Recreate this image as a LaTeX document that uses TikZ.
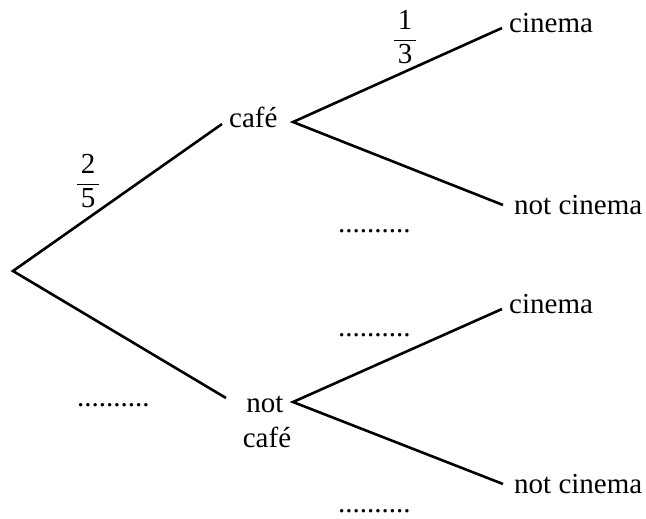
\documentclass[tikz,border=0pt]{standalone}
\usepackage{fontspec}
\setmainfont{Liberation Serif}
\begin{document}
\begin{tikzpicture}[x=1pt,y=-1pt,
  branch/.style={line width=2.6pt},
  lbl/.style={inner sep=0pt,font=\fontsize{29}{35}\selectfont},
  dots/.style={lbl,anchor=base west}]
\useasboundingbox (0,0) rectangle (646,519);
% branch end points
\coordinate (root) at (13,271);
\coordinate (cafeIn) at (222,124);
\coordinate (notcafeIn) at (226,398);
\coordinate (cafeOut) at (293,122);
\coordinate (notcafeOut) at (293,402);
\coordinate (c1) at (502,28);
\coordinate (nc1) at (503,205);
\coordinate (c2) at (502,309);
\coordinate (nc2) at (503,484);
% labels
\node[lbl,anchor=base west] (cafe) at (229,128) {café};
\node[lbl,anchor=base,align=center] (notcafe) at (265,447) {not\\\hspace*{4pt}café};
\node[lbl,anchor=base west] (cin1) at (509,33) {cinema};
\node[lbl,anchor=base west] (ncin1) at (514,214) {not cinema};
\node[lbl,anchor=base west] (cin2) at (509,313) {cinema};
\node[lbl,anchor=base west] (ncin2) at (514,493) {not cinema};
\node[lbl] (f25) at (88,181) {$\displaystyle\frac{\mbox{\hspace{4pt}2\hspace{4pt}}}{\mbox{5}}$};
\node[lbl] (f13) at (405,37) {$\displaystyle\frac{\mbox{\hspace{4pt}1\hspace{4pt}}}{\mbox{3}}$};
\node[dots] (d1) at (338,232) {..........};
\node[dots] (d2) at (338,336) {..........};
\node[dots] (d3) at (77,406) {..........};
\node[dots] (d4) at (338,512) {..........};
% branches
\draw[branch] (cafeIn) -- (root) -- (notcafeIn);
\draw[branch] (c1) -- (cafeOut) -- (nc1);
\draw[branch] (c2) -- (notcafeOut) -- (nc2);
\end{tikzpicture}
\end{document}
